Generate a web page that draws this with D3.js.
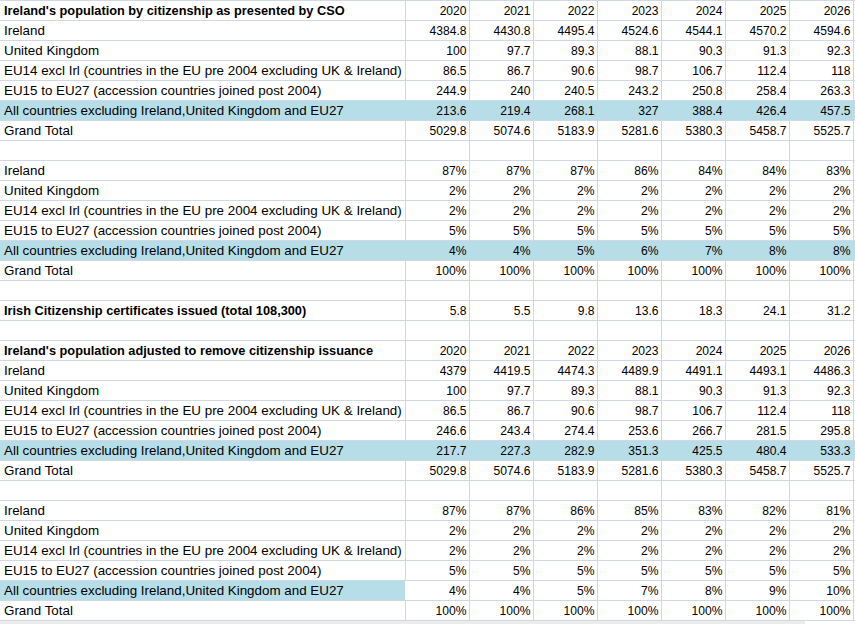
<!DOCTYPE html>
<html><head><meta charset="utf-8">
<script src="https://cdn.jsdelivr.net/npm/d3@7"></script>
<style>html,body{margin:0;padding:0;background:#fff;overflow:hidden}</style>
</head><body>
<svg id="c" width="855" height="624"></svg>
<script>
const years = [2020, 2021, 2022, 2023, 2024, 2025, 2026];
const groupLabels = [
  "Ireland",
  "United Kingdom",
  "EU14 excl Irl (countries in the EU pre 2004 excluding UK & Ireland)",
  "EU15 to EU27 (accession countries joined post 2004)",
  "All countries excluding Ireland,United Kingdom and EU27",
  "Grand Total"
];
const title1 = "Ireland's population by citizenship as presented by CSO";
const title2 = "Irish Citizenship certificates issued (total 108,300)";
const title3 = "Ireland's population adjusted to remove citizenship issuance";

const csoIreland = [4384.8, 4430.8, 4495.4, 4524.6, 4544.1, 4570.2, 4594.6];
const csoUK      = [100, 97.7, 89.3, 88.1, 90.3, 91.3, 92.3];
const csoEU14    = [86.5, 86.7, 90.6, 98.7, 106.7, 112.4, 118];
const csoEU15    = [244.9, 240, 240.5, 243.2, 250.8, 258.4, 263.3];
const csoOther   = [213.6, 219.4, 268.1, 327, 388.4, 426.4, 457.5];
const csoTotal   = [5029.8, 5074.6, 5183.9, 5281.6, 5380.3, 5458.7, 5525.7];

const csoPctIreland = [87, 87, 87, 86, 84, 84, 83];
const csoPctUK      = [2, 2, 2, 2, 2, 2, 2];
const csoPctEU14    = [2, 2, 2, 2, 2, 2, 2];
const csoPctEU15    = [5, 5, 5, 5, 5, 5, 5];
const csoPctOther   = [4, 4, 5, 6, 7, 8, 8];
const csoPctTotal   = [100, 100, 100, 100, 100, 100, 100];

const certificates = [5.8, 5.5, 9.8, 13.6, 18.3, 24.1, 31.2];

const adjIreland = [4379, 4419.5, 4474.3, 4489.9, 4491.1, 4493.1, 4486.3];
const adjUK      = [100, 97.7, 89.3, 88.1, 90.3, 91.3, 92.3];
const adjEU14    = [86.5, 86.7, 90.6, 98.7, 106.7, 112.4, 118];
const adjEU15    = [246.6, 243.4, 274.4, 253.6, 266.7, 281.5, 295.8];
const adjOther   = [217.7, 227.3, 282.9, 351.3, 425.5, 480.4, 533.3];
const adjTotal   = [5029.8, 5074.6, 5183.9, 5281.6, 5380.3, 5458.7, 5525.7];

const adjPctIreland = [87, 87, 86, 85, 83, 82, 81];
const adjPctUK      = [2, 2, 2, 2, 2, 2, 2];
const adjPctEU14    = [2, 2, 2, 2, 2, 2, 2];
const adjPctEU15    = [5, 5, 5, 5, 5, 5, 5];
const adjPctOther   = [4, 4, 5, 7, 8, 9, 10];
const adjPctTotal   = [100, 100, 100, 100, 100, 100, 100];

// Build row table
const num = v => String(v);
const pct = v => v + "%";
const rows = [];
function section(vals, fmt, hlFull) {
  vals.forEach((v, i) => rows.push({label: groupLabels[i], values: v, fmt, hl: i === 4 ? hlFull : null}));
}
rows.push({label: title1, bold: true, values: years, fmt: num});
section([csoIreland, csoUK, csoEU14, csoEU15, csoOther, csoTotal], num, "full");
rows.push({label: ""});
section([csoPctIreland, csoPctUK, csoPctEU14, csoPctEU15, csoPctOther, csoPctTotal], pct, "full");
rows.push({label: ""});
rows.push({label: title2, bold: true, values: certificates, fmt: num});
rows.push({label: ""});
rows.push({label: title3, bold: true, values: years, fmt: num});
section([adjIreland, adjUK, adjEU14, adjEU15, adjOther, adjTotal], num, "full");
rows.push({label: ""});
section([adjPctIreland, adjPctUK, adjPctEU14, adjPctEU15, adjPctOther, adjPctTotal], pct, "label");

const W = 855, H = 624;
const labelW = 405, tableRight = 853;
const svg = d3.select("#c");
const y = d3.scaleBand().domain(d3.range(rows.length)).range([0, rows.length * 20]);
const x = d3.scaleBand().domain(years).range([labelW, tableRight]);

const gridColor = "#d0d7e5";
const hlColor = "#b7dde8";
const font = "'Liberation Sans', Arial, sans-serif";

// fit font sizes to the spreadsheet's text widths
function measure(str, size, weight) {
  const t = svg.append("text").attr("font-family", font).attr("font-size", size)
    .attr("font-weight", weight).text(str);
  const w = t.node().getComputedTextLength();
  t.remove();
  return w;
}
const labelSize = 13 * 398 / measure(groupLabels[2], 13, "normal");
const boldSize = 13 * 341 / measure(title1, 13, "bold");
const numSize = 12 * 37 / measure("4384.8", 12, "normal");

// highlights
svg.selectAll("rect.hl").data(rows.map((r, i) => ({r, i})).filter(d => d.r.hl))
  .join("rect")
  .attr("x", 0).attr("y", d => y(d.i))
  .attr("width", d => d.r.hl === "full" ? W : labelW)
  .attr("height", y.bandwidth())
  .attr("fill", hlColor);

// bottom gray strip
const bottom = y.range()[1];
svg.append("rect").attr("x", 0).attr("y", bottom + 1).attr("width", 805).attr("height", H - bottom)
  .attr("fill", "#ececec");

// horizontal gridlines
const hLines = d3.range(rows.length + 1).map(i => i * y.step());
svg.selectAll("line.h").data(hLines).join("line")
  .attr("x1", 0).attr("x2", W)
  .attr("y1", d => d + 0.5).attr("y2", d => d + 0.5)
  .attr("stroke", gridColor).attr("stroke-width", 1);

// vertical gridlines, segmented by row (hidden under highlights)
const vx = [labelW].concat(years.map(yr => x(yr) + x.bandwidth()));
rows.forEach((r, i) => {
  vx.forEach(xx => {
    if (r.hl === "full") return;
    if (r.hl === "label" && xx === labelW) return;
    svg.append("line")
      .attr("x1", xx + 0.5).attr("x2", xx + 0.5)
      .attr("y1", y(i)).attr("y2", y(i) + y.step())
      .attr("stroke", gridColor);
  });
});

// labels
svg.selectAll("text.lab").data(rows.map((r, i) => ({r, i})).filter(d => d.r.label))
  .join("text")
  .attr("x", 4).attr("y", d => y(d.i) + 15)
  .attr("font-family", font)
  .attr("font-size", d => d.r.bold ? boldSize : labelSize)
  .attr("font-weight", d => d.r.bold ? "bold" : "normal")
  .attr("fill", "#000")
  .text(d => d.r.label);

// values
rows.forEach((r, i) => {
  if (!r.values) return;
  svg.selectAll(null).data(r.values.map((v, j) => ({v, yr: years[j]}))).join("text")
    .attr("x", d => x(d.yr) + x.bandwidth() - 2.5)
    .attr("y", y(i) + 15)
    .attr("text-anchor", "end")
    .attr("font-family", font).attr("font-size", numSize)
    .attr("fill", "#000")
    .text(d => r.fmt(d.v));
});
</script>
</body></html>
